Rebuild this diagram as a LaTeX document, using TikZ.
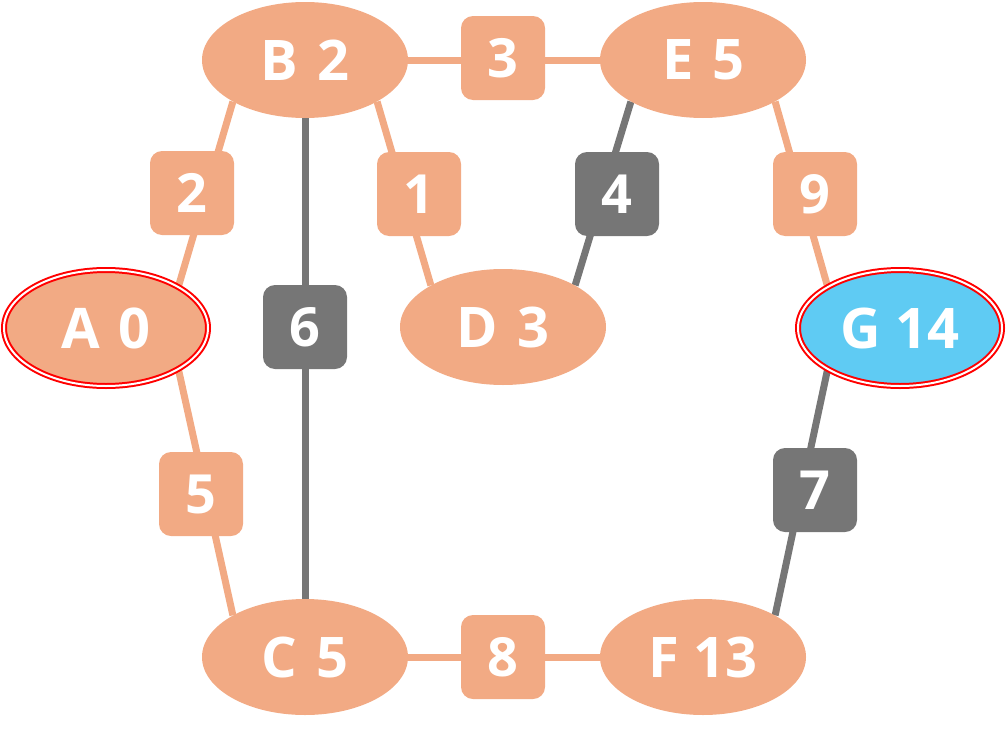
\documentclass[tikz,border=0pt]{standalone}
\usepackage{fontspec}
\setmainfont{Open Sans}
\usetikzlibrary{shapes.geometric,backgrounds}
\definecolor{peach}{HTML}{F2AA84}
\definecolor{slate}{HTML}{767676}
\definecolor{sky}{HTML}{5FCBF3}
\tikzset{
  vert/.style={ellipse, fill=peach, minimum width=206pt, minimum height=116pt,
    inner sep=0pt, text=white, font=\fontsize{56}{60}\selectfont\bfseries},
  goal/.style={double=white, draw=red, line width=2pt, double distance=2pt,
    minimum width=204pt, minimum height=116pt},
  wbox/.style={rectangle, rounded corners=12pt, minimum size=84pt, inner sep=0pt,
    fill=#1, text=white, font=\fontsize{54}{58}\selectfont\bfseries},
  wbox/.default=peach,
  wire/.style={line width=7pt, draw=#1},
  wire/.default=peach
}
\begin{document}
\begin{tikzpicture}[x=1pt,y=-1pt]
  \useasboundingbox (0,0) rectangle (1006,728);
  % vertices
  \node[vert,goal] (A) at (106,328) {A\,\,0};
  \node[vert] (B) at (305,60) {B\,\,2};
  \node[vert] (C) at (305,657) {C\,\,5};
  \node[vert] (D) at (503,327) {D\,\,3};
  \node[vert] (E) at (703,60) {E\,\,5};
  \node[vert] (F) at (703,657) {F 13};
  \node[vert,goal,fill=sky] (G) at (900,328) {G 14};
  % weights
  \node[wbox] (wAB) at (192,193) {2};
  \node[wbox] (wBD) at (419,194) {1};
  \node[wbox=slate] (wDE) at (617,194) {4};
  \node[wbox] (wEG) at (815,194) {9};
  \node[wbox] (wBE) at (503,58) {3};
  \node[wbox=slate] (wBC) at (305,327) {6};
  \node[wbox] (wAC) at (201,494) {5};
  \node[wbox=slate] (wFG) at (815,490) {7};
  \node[wbox] (wCF) at (503,657) {8};
  % edges
  \begin{scope}[on background layer]
    \foreach \p/\q in {A.30/B.210, A.-30/C.150, B.-30/D.150, E.-30/G.150, B.east/E.west, C.east/F.west}
      \draw[wire] (\p) -- (\q);
    \foreach \p/\q in {B.south/C.north, E.-150/D.30, G.-150/F.30}
      \draw[wire=slate] (\p) -- (\q);
  \end{scope}
\end{tikzpicture}
\end{document}
